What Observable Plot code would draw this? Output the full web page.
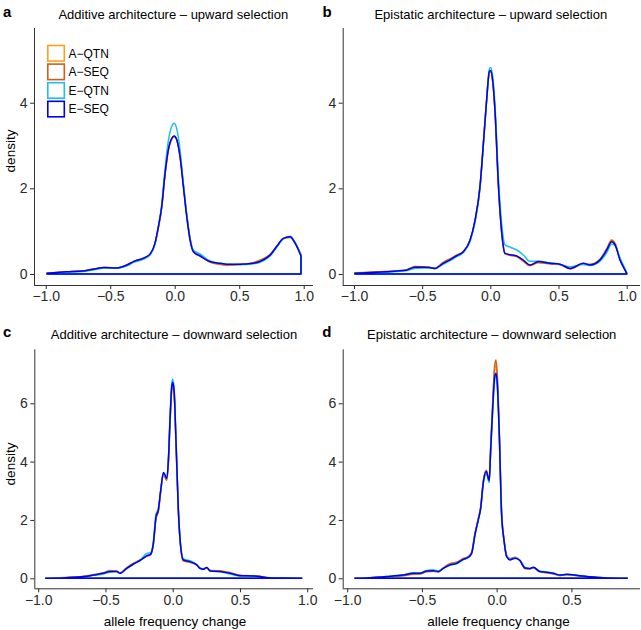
<!DOCTYPE html>
<html><head><meta charset="utf-8">
<script src="https://cdn.jsdelivr.net/npm/d3@7"></script>
<script src="https://cdn.jsdelivr.net/npm/@observablehq/plot@0.6"></script>
<style>
body{margin:0;background:#fff;}
#fig{position:relative;width:641px;height:630px;background:#fff;overflow:hidden;}
#fig svg.panel{position:absolute;}
#fig svg.panel text{font-size:14px !important;fill:#2b2b2b;}
#overlay{position:absolute;left:0;top:0;pointer-events:none;}
</style></head><body><div id="fig"></div>
<script>
// ---------- data ----------
const seriesNames = ["A\u2212QTN", "A\u2212SEQ", "E\u2212QTN", "E\u2212SEQ"];
const seriesColors = ["#F7A21B", "#D0601C", "#1CC0F0", "#0000EE"];

// panel a: additive architecture, upward selection
const xs_a = [-0.99, -0.84, -0.71, -0.60, -0.55, -0.45, -0.37, -0.32, -0.24, -0.19, -0.153, -0.127, -0.101, -0.075, -0.05, -0.023, -0.005, 0.015, 0.041, 0.067, 0.093, 0.119, 0.144, 0.196, 0.274, 0.35, 0.403, 0.5, 0.61, 0.687, 0.739, 0.79, 0.842, 0.894, 0.933, 0.979];
const a_AQTN = [0.02, 0.05, 0.07, 0.13, 0.15, 0.14, 0.21, 0.29, 0.38, 0.47, 0.71, 1.08, 1.55, 2.33, 2.88, 3.16, 3.22, 3.15, 2.78, 2.10, 1.40, 0.84, 0.55, 0.44, 0.27, 0.22, 0.20, 0.22, 0.27, 0.36, 0.46, 0.64, 0.82, 0.85, 0.72, 0.44];
const a_ASEQ = [0.02, 0.05, 0.07, 0.13, 0.15, 0.14, 0.21, 0.29, 0.37, 0.46, 0.71, 1.08, 1.55, 2.32, 2.88, 3.15, 3.21, 3.14, 2.76, 2.08, 1.38, 0.82, 0.54, 0.43, 0.28, 0.23, 0.21, 0.22, 0.26, 0.35, 0.45, 0.64, 0.83, 0.86, 0.73, 0.45];
const a_EQTN = [0.01, 0.04, 0.06, 0.11, 0.14, 0.14, 0.19, 0.27, 0.35, 0.45, 0.70, 1.10, 1.62, 2.45, 3.10, 3.45, 3.52, 3.40, 2.90, 2.10, 1.38, 0.82, 0.56, 0.47, 0.30, 0.25, 0.23, 0.22, 0.24, 0.31, 0.42, 0.62, 0.82, 0.88, 0.74, 0.43];
const a_ESEQ = [0.02, 0.05, 0.07, 0.13, 0.15, 0.14, 0.21, 0.29, 0.37, 0.47, 0.72, 1.10, 1.57, 2.35, 2.90, 3.17, 3.22, 3.14, 2.74, 2.04, 1.34, 0.79, 0.52, 0.42, 0.29, 0.25, 0.23, 0.23, 0.25, 0.33, 0.44, 0.64, 0.83, 0.87, 0.72, 0.42];

// panel b: epistatic architecture, upward selection
const xs_b = [-0.993, -0.834, -0.687, -0.614, -0.553, -0.491, -0.443, -0.406, -0.345, -0.296, -0.25, -0.198, -0.149, -0.112, -0.076, -0.051, -0.027, -0.007, 0.002, 0.017, 0.034, 0.059, 0.084, 0.108, 0.15, 0.194, 0.24, 0.29, 0.352, 0.438, 0.511, 0.585, 0.682, 0.731, 0.805, 0.854, 0.89, 0.915, 0.951, 0.988, 1.0];
const b_AQTN = [0.03, 0.05, 0.07, 0.10, 0.18, 0.17, 0.15, 0.13, 0.27, 0.35, 0.44, 0.53, 0.78, 1.24, 2.02, 3.03, 4.05, 4.70, 4.72, 4.50, 3.80, 2.05, 0.95, 0.47, 0.43, 0.40, 0.30, 0.19, 0.26, 0.24, 0.22, 0.12, 0.24, 0.23, 0.35, 0.60, 0.80, 0.72, 0.36, 0.10, 0.02];
const b_ASEQ = [0.02, 0.05, 0.07, 0.10, 0.17, 0.17, 0.15, 0.13, 0.27, 0.35, 0.43, 0.52, 0.78, 1.25, 2.02, 3.04, 4.06, 4.71, 4.73, 4.51, 3.81, 2.08, 0.96, 0.48, 0.44, 0.41, 0.31, 0.20, 0.27, 0.24, 0.22, 0.12, 0.24, 0.22, 0.34, 0.58, 0.78, 0.71, 0.35, 0.10, 0.02];
const b_EQTN = [0.01, 0.03, 0.06, 0.08, 0.13, 0.14, 0.14, 0.13, 0.23, 0.31, 0.40, 0.50, 0.76, 1.22, 2.00, 3.02, 4.08, 4.78, 4.82, 4.62, 3.95, 2.25, 1.15, 0.68, 0.62, 0.56, 0.45, 0.30, 0.30, 0.26, 0.22, 0.17, 0.22, 0.20, 0.30, 0.50, 0.70, 0.66, 0.37, 0.12, 0.03];
const b_ESEQ = [0.02, 0.04, 0.07, 0.09, 0.16, 0.16, 0.15, 0.13, 0.25, 0.33, 0.42, 0.52, 0.79, 1.26, 2.04, 3.05, 4.07, 4.73, 4.75, 4.53, 3.83, 2.10, 0.95, 0.48, 0.45, 0.42, 0.33, 0.21, 0.29, 0.25, 0.23, 0.13, 0.25, 0.21, 0.33, 0.56, 0.75, 0.68, 0.33, 0.09, 0.02];

// panel c: additive architecture, downward selection
const xs_c = [-0.944, -0.79, -0.66, -0.59, -0.515, -0.466, -0.416, -0.392, -0.342, -0.292, -0.243, -0.193, -0.164, -0.144, -0.124, -0.107, -0.089, -0.069, -0.057, -0.045, -0.032, -0.02, -0.007, 0.0, 0.01, 0.025, 0.042, 0.062, 0.079, 0.129, 0.178, 0.203, 0.228, 0.253, 0.278, 0.352, 0.426, 0.5, 0.6, 0.649, 0.699, 0.823, 0.959];
const c_AQTN = [0, 0.03, 0.07, 0.12, 0.19, 0.27, 0.25, 0.19, 0.37, 0.52, 0.63, 0.76, 0.80, 1.15, 2.05, 2.28, 2.98, 3.58, 3.48, 3.38, 4.0, 5.35, 6.5, 6.66, 6.4, 4.58, 2.3, 0.95, 0.6, 0.55, 0.47, 0.36, 0.33, 0.36, 0.28, 0.26, 0.2, 0.11, 0.08, 0.07, 0.03, 0.01, 0];
const c_ASEQ = [0, 0.03, 0.06, 0.12, 0.18, 0.25, 0.24, 0.18, 0.36, 0.51, 0.62, 0.76, 0.81, 1.16, 2.06, 2.3, 3.0, 3.58, 3.46, 3.36, 3.98, 5.3, 6.45, 6.6, 6.35, 4.55, 2.28, 0.94, 0.6, 0.55, 0.46, 0.35, 0.32, 0.36, 0.27, 0.25, 0.19, 0.1, 0.08, 0.06, 0.03, 0.01, 0];
const c_EQTN = [0, 0.02, 0.05, 0.10, 0.15, 0.21, 0.23, 0.18, 0.33, 0.48, 0.62, 0.85, 0.88, 1.25, 2.2, 2.38, 3.0, 3.6, 3.52, 3.42, 4.1, 5.5, 6.68, 6.82, 6.55, 4.7, 2.4, 1.0, 0.67, 0.6, 0.47, 0.35, 0.31, 0.36, 0.25, 0.22, 0.15, 0.08, 0.07, 0.05, 0.02, 0.01, 0];
const c_ESEQ = [0, 0.02, 0.06, 0.11, 0.17, 0.23, 0.23, 0.17, 0.34, 0.49, 0.61, 0.77, 0.83, 1.2, 2.11, 2.34, 3.03, 3.63, 3.54, 3.43, 4.06, 5.43, 6.57, 6.71, 6.46, 4.63, 2.34, 0.97, 0.63, 0.57, 0.46, 0.34, 0.31, 0.37, 0.25, 0.23, 0.17, 0.09, 0.08, 0.06, 0.02, 0.01, 0];

// panel d: epistatic architecture, downward selection
const xs_d = [-0.948, -0.847, -0.736, -0.624, -0.557, -0.513, -0.468, -0.424, -0.39, -0.357, -0.312, -0.268, -0.223, -0.19, -0.167, -0.145, -0.123, -0.107, -0.089, -0.069, -0.05, -0.04, -0.027, -0.013, -0.004, 0.004, 0.018, 0.033, 0.049, 0.067, 0.089, 0.123, 0.156, 0.19, 0.223, 0.245, 0.29, 0.334, 0.379, 0.424, 0.468, 0.557, 0.602, 0.713, 0.874];
const d_AQTN = [0, 0.02, 0.05, 0.1, 0.15, 0.15, 0.23, 0.24, 0.22, 0.35, 0.49, 0.54, 0.67, 0.73, 0.88, 1.52, 2.02, 2.42, 3.32, 3.68, 3.3, 4.45, 5.9, 7.15, 7.3, 6.85, 4.95, 2.25, 1.33, 0.76, 0.66, 0.71, 0.6, 0.34, 0.33, 0.36, 0.22, 0.2, 0.16, 0.1, 0.13, 0.08, 0.05, 0.02, 0];
const d_ASEQ = [0, 0.02, 0.05, 0.09, 0.14, 0.15, 0.22, 0.24, 0.22, 0.36, 0.5, 0.55, 0.68, 0.74, 0.9, 1.55, 2.05, 2.45, 3.35, 3.7, 3.32, 4.5, 6.0, 7.3, 7.48, 7.0, 5.0, 2.3, 1.35, 0.78, 0.68, 0.72, 0.6, 0.33, 0.32, 0.36, 0.22, 0.19, 0.15, 0.1, 0.12, 0.08, 0.05, 0.02, 0];
const d_EQTN = [0, 0.02, 0.06, 0.12, 0.19, 0.18, 0.27, 0.29, 0.25, 0.34, 0.45, 0.5, 0.64, 0.71, 0.85, 1.48, 2.0, 2.38, 3.25, 3.6, 3.28, 4.35, 5.7, 6.8, 6.95, 6.6, 4.8, 2.15, 1.3, 0.75, 0.65, 0.7, 0.62, 0.37, 0.33, 0.37, 0.24, 0.22, 0.17, 0.12, 0.13, 0.09, 0.06, 0.02, 0];
const d_ESEQ = [0, 0.02, 0.06, 0.11, 0.17, 0.17, 0.25, 0.26, 0.23, 0.34, 0.46, 0.51, 0.65, 0.72, 0.86, 1.5, 2.0, 2.4, 3.3, 3.66, 3.35, 4.4, 5.77, 6.91, 7.03, 6.69, 4.86, 2.2, 1.31, 0.74, 0.63, 0.69, 0.61, 0.35, 0.34, 0.38, 0.23, 0.21, 0.17, 0.11, 0.14, 0.09, 0.06, 0.02, 0];

const titles = ["Additive architecture \u2013 upward selection", "Epistatic architecture \u2013 upward selection",
                "Additive architecture \u2013 downward selection", "Epistatic architecture \u2013 downward selection"];
const letters = ["a", "b", "c", "d"];
const xTicksFull = [-1, -0.5, 0, 0.5, 1];
const xTicksD = [-1, -0.5, 0, 0.5];
const yTicksUp = [0, 2, 4];
const yTicksDown = [0, 2, 4, 6];

// ---------- layout ----------
const FONT = "'Liberation Sans', Arial, Helvetica, sans-serif";
const panels = [
  {xs: xs_a, ys: [a_AQTN, a_ASEQ, a_EQTN, a_ESEQ], left: 0,   top: 0,   w: 320, h: 310, mL: 34,   mR: 7, mT: 28,   mB: 25,   xDom: [-1.091, 1.072], yDom: [-0.257, 5.744], xt: xTicksFull, yt: yTicksUp},
  {xs: xs_b, ys: [b_AQTN, b_ASEQ, b_EQTN, b_ESEQ], left: 320, top: 0,   w: 321, h: 310, mL: 22.7, mR: 1, mT: 28,   mB: 25,   xDom: [-1.083, 1.098], yDom: [-0.257, 5.744], xt: xTicksFull, yt: yTicksUp},
  {xs: xs_c, ys: [c_AQTN, c_ASEQ, c_EQTN, c_ESEQ], left: 0,   top: 310, w: 320, h: 320, mL: 34.3, mR: 7, mT: 39.3, mB: 41.7, xDom: [-1.029, 1.043], yDom: [-0.343, 7.85], xt: xTicksFull, yt: yTicksDown},
  {xs: xs_d, ys: [d_AQTN, d_ASEQ, d_EQTN, d_ESEQ], left: 320, top: 310, w: 321, h: 320, mL: 22.7, mR: 1, mT: 39.3, mB: 41.7, xDom: [-1.030, 0.959], yDom: [-0.343, 7.85], xt: xTicksD, yt: yTicksDown}
];

const fig = document.getElementById("fig");
const fmt = d3.format(".1f");

panels.forEach((p) => {
  const data = [];
  p.ys.forEach((arr, i) => arr.forEach((v, j) => data.push({x: p.xs[j], y: v, s: seriesNames[i]})));
  const chart = Plot.plot({
    width: p.w, height: p.h,
    marginLeft: p.mL, marginRight: p.mR, marginTop: p.mT, marginBottom: p.mB,
    style: {fontFamily: FONT, fontSize: "14px", color: "#2b2b2b", background: "transparent", overflow: "visible"},
    x: {domain: p.xDom, ticks: p.xt, tickFormat: fmt, tickSize: 4, tickPadding: 2, label: null},
    y: {domain: p.yDom, ticks: p.yt, tickFormat: (d) => String(d), tickSize: 4, tickPadding: 3, label: null},
    color: {domain: seriesNames, range: seriesColors},
    marks: [
      Plot.areaY(data, {x: "x", y1: 0, y2: "y", z: "s", stroke: "s", fill: "none", strokeWidth: 1.5, curve: "monotone-x", strokeLinejoin: "round"}),
      Plot.ruleY([p.yDom[0]], {stroke: "#333", strokeWidth: 1}),
      Plot.ruleX([p.xDom[0]], {stroke: "#333", strokeWidth: 1})
    ]
  });
  chart.classList.add("panel");
  chart.style.left = p.left + "px";
  chart.style.top = p.top + "px";
  chart.querySelectorAll("text").forEach((t) => { t.setAttribute("font-size", "14"); t.style.fontSize = "14px"; });
  fig.appendChild(chart);
});

// ---------- text overlay ----------
const ov = d3.select(fig).append("svg").attr("id", "overlay").attr("width", 641).attr("height", 630)
  .style("font-family", FONT);

const letterPos = [[3, 16.7], [322.5, 16.5], [3, 337.3], [322.3, 336.7]];
const titlePos = [[173.3, 18.7], [490.8, 18.7], [174, 339.2], [491.7, 339.2]];
letters.forEach((l, i) => {
  ov.append("text").attr("x", letterPos[i][0]).attr("y", letterPos[i][1])
    .attr("font-size", 15).attr("font-weight", "bold").attr("fill", "#000").text(l);
  ov.append("text").attr("x", titlePos[i][0]).attr("y", titlePos[i][1]).attr("text-anchor", "middle")
    .attr("font-size", 13).attr("fill", "#000").text(titles[i]);
});

// axis titles
[[15.3, 151], [15.3, 464]].forEach(([x, y]) => {
  ov.append("text").attr("transform", `translate(${x},${y}) rotate(-90)`).attr("text-anchor", "middle")
    .attr("font-size", 13.5).attr("fill", "#000").text("density");
});
[[175, 625.5], [498.5, 625.5]].forEach(([x, y]) => {
  ov.append("text").attr("x", x).attr("y", y).attr("text-anchor", "middle")
    .attr("font-size", 13.5).attr("fill", "#000").text("allele frequency change");
});

// legend (inside panel a)
seriesNames.forEach((name, i) => {
  const y0 = 45 + i * 18.6;
  ov.append("rect").attr("x", 47.8).attr("y", y0 + 0.5).attr("width", 16.5).attr("height", 15.5)
    .attr("fill", "white").attr("stroke", seriesColors[i]).attr("stroke-width", 1.6);
  ov.append("text").attr("x", 68.5).attr("y", y0 + 12.6).attr("font-size", 12).attr("fill", "#000").text(name);
});
</script>
</body></html>
